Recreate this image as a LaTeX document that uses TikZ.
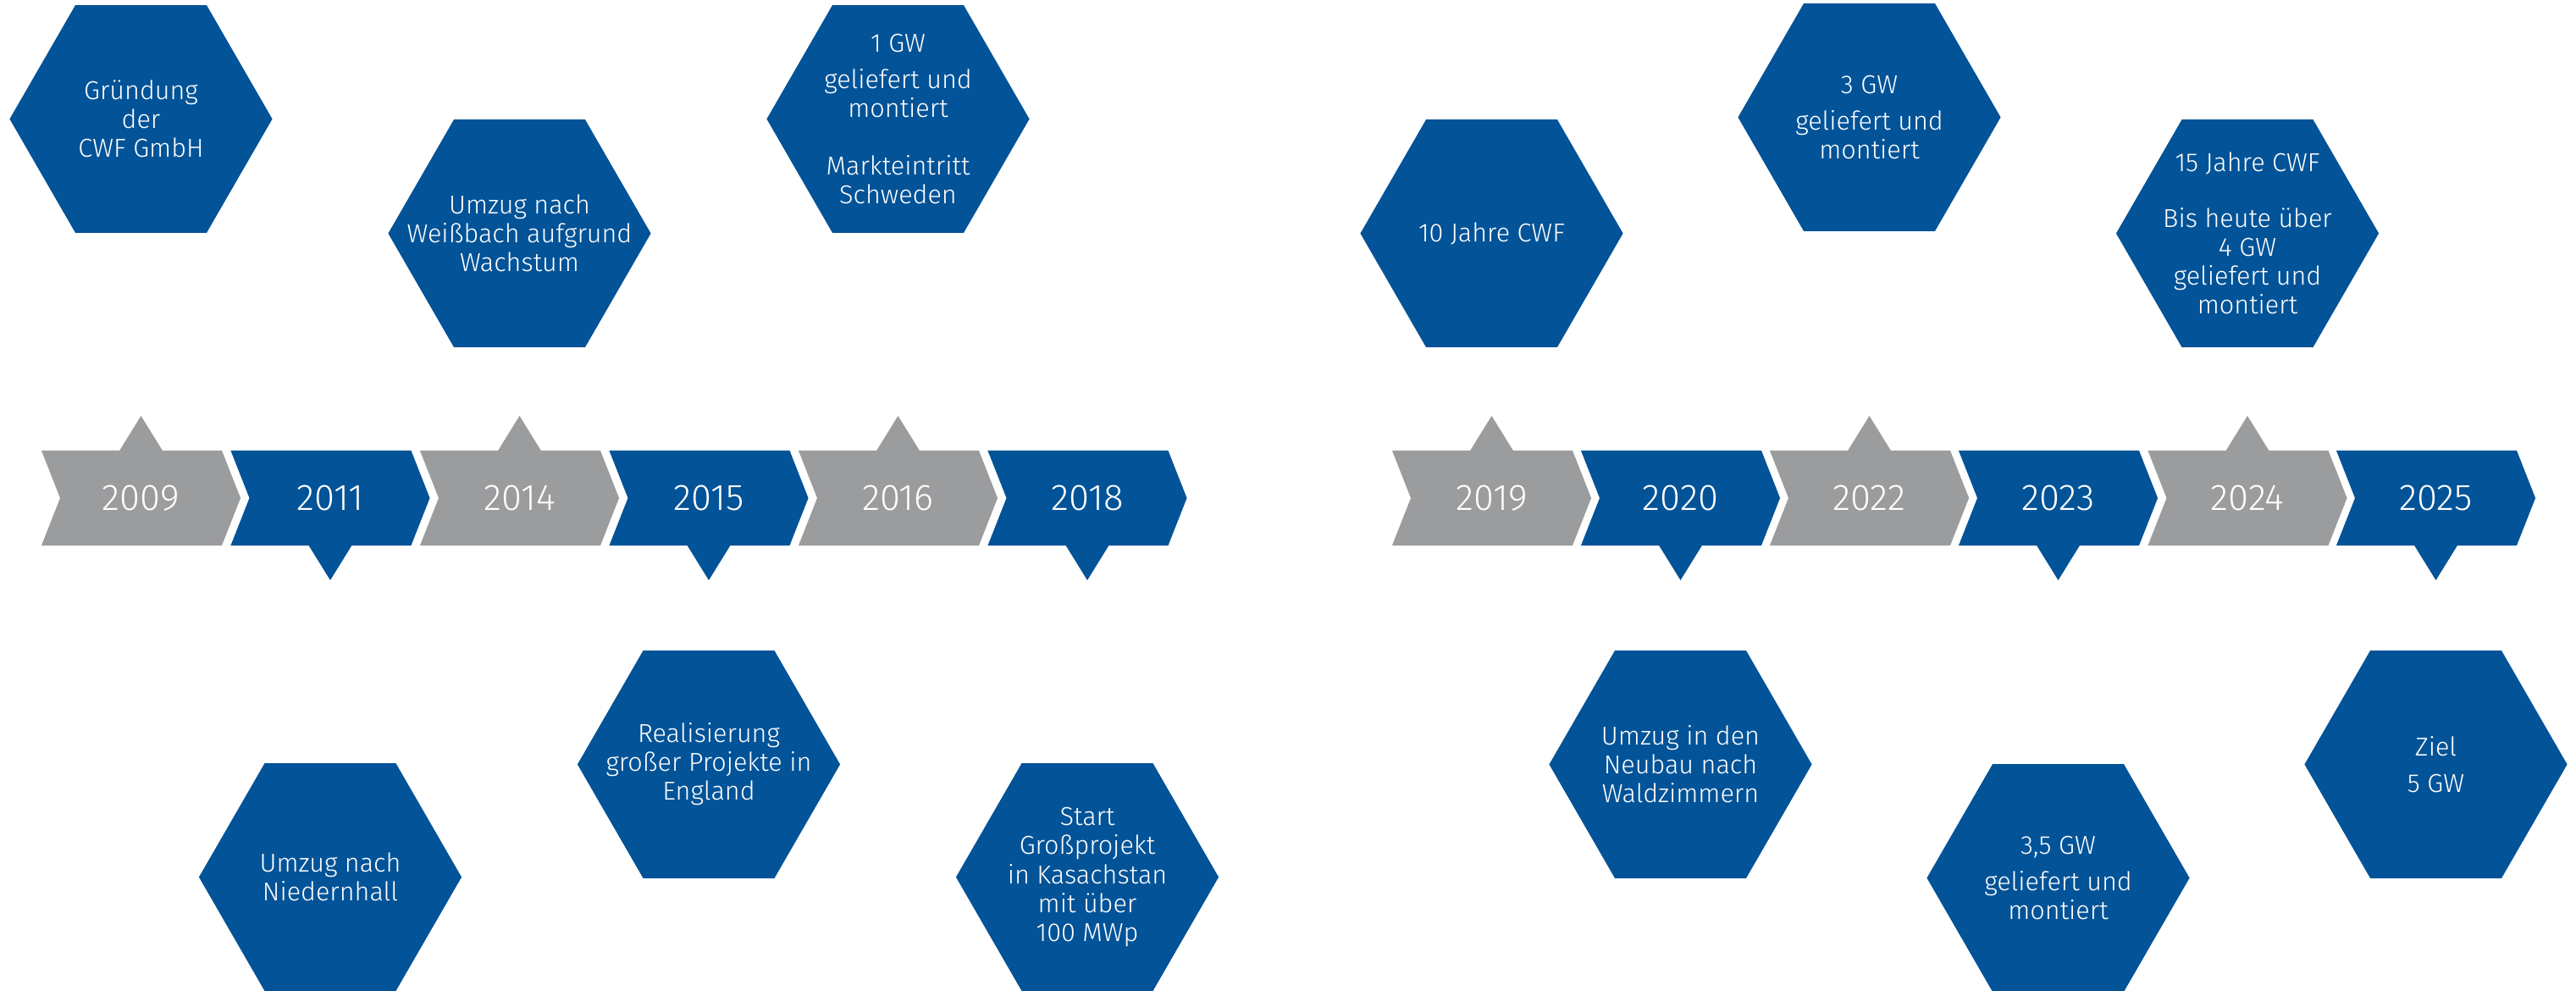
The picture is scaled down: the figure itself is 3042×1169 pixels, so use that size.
\documentclass[tikz,border=0pt]{standalone}
\usepackage{fontspec}
\setmainfont{Fira Sans}[UprightFont={* Light}]
\usepackage{tikz}
\usetikzlibrary{shapes.geometric, shapes.symbols, positioning, calc}
\definecolor{cwfblue}{RGB}{3,83,152}
\definecolor{cwfgray}{RGB}{155,156,158}
\tikzstyle{year} = [signal, signal to=east, signal from=west, signal pointer angle=137, minimum width=2.35cm, minimum height=1.12cm, inner sep=0pt, outer sep=0pt, text=white, font=\fontsize{12.4}{14}\selectfont]
\tikzstyle{yeargray} = [year, fill=cwfgray]
\tikzstyle{yearblue} = [year, fill=cwfblue]
\tikzstyle{hexa} = [regular polygon, regular polygon sides=6, minimum size=3.1cm, inner sep=0pt, outer sep=0pt, fill=cwfblue]
\tikzstyle{hextext} = [text=white, align=center, inner sep=0pt, font=\fontsize{8.7}{9.7}\selectfont]

\begin{document}
\begin{tikzpicture}[x=0.01cm, y=-0.01cm]
    \useasboundingbox (0,0) rectangle (3042,1169);

    % Years, left row
    \node (y2009) [yeargray] at (166.5,588) {2009};
    \node (y2011) [yearblue] at (390,588) {2011};
    \node (y2014) [yeargray] at (613.5,588) {2014};
    \node (y2015) [yearblue] at (837,588) {2015};
    \node (y2016) [yeargray] at (1060.5,588) {2016};
    \node (y2018) [yearblue] at (1284,588) {2018};
    % Years, right row
    \node (y2019) [yeargray] at (1761.5,588) {2019};
    \node (y2020) [yearblue] at (1984.5,588) {2020};
    \node (y2022) [yeargray] at (2207.5,588) {2022};
    \node (y2023) [yearblue] at (2430.5,588) {2023};
    \node (y2024) [yeargray] at (2654,588) {2024};
    \node (y2025) [yearblue] at (2876.5,588) {2025};

    % Tips
    \fill[cwfgray] ($(y2009.north)+(-26,1)$) -- ($(y2009.north)+(0,-41)$) -- ($(y2009.north)+(26,1)$) -- cycle;
    \fill[cwfgray] ($(y2014.north)+(-26,1)$) -- ($(y2014.north)+(0,-41)$) -- ($(y2014.north)+(26,1)$) -- cycle;
    \fill[cwfgray] ($(y2016.north)+(-26,1)$) -- ($(y2016.north)+(0,-41)$) -- ($(y2016.north)+(26,1)$) -- cycle;
    \fill[cwfgray] ($(y2019.north)+(-26,1)$) -- ($(y2019.north)+(0,-41)$) -- ($(y2019.north)+(26,1)$) -- cycle;
    \fill[cwfgray] ($(y2022.north)+(-26,1)$) -- ($(y2022.north)+(0,-41)$) -- ($(y2022.north)+(26,1)$) -- cycle;
    \fill[cwfgray] ($(y2024.north)+(-26,1)$) -- ($(y2024.north)+(0,-41)$) -- ($(y2024.north)+(26,1)$) -- cycle;
    \fill[cwfblue] ($(y2011.south)+(-26,-1)$) -- ($(y2011.south)+(0,41)$) -- ($(y2011.south)+(26,-1)$) -- cycle;
    \fill[cwfblue] ($(y2015.south)+(-26,-1)$) -- ($(y2015.south)+(0,41)$) -- ($(y2015.south)+(26,-1)$) -- cycle;
    \fill[cwfblue] ($(y2018.south)+(-26,-1)$) -- ($(y2018.south)+(0,41)$) -- ($(y2018.south)+(26,-1)$) -- cycle;
    \fill[cwfblue] ($(y2020.south)+(-26,-1)$) -- ($(y2020.south)+(0,41)$) -- ($(y2020.south)+(26,-1)$) -- cycle;
    \fill[cwfblue] ($(y2023.south)+(-26,-1)$) -- ($(y2023.south)+(0,41)$) -- ($(y2023.south)+(26,-1)$) -- cycle;
    \fill[cwfblue] ($(y2025.south)+(-26,-1)$) -- ($(y2025.south)+(0,41)$) -- ($(y2025.south)+(26,-1)$) -- cycle;

    % Events
    \node (gruendung) [hexa, above=2.57cm of y2009, label={[hextext]center:{Gründung\\der\\CWF GmbH}}] {};
    \node (niedernhall) [hexa, below=2.57cm of y2011, label={[hextext]center:{Umzug nach\\Niedernhall}}] {};
    \node (weissbach) [hexa, above=1.22cm of y2014, label={[hextext]center:{Umzug nach\\Weißbach aufgrund\\Wachstum}}] {};
    \node (england) [hexa, below=1.24cm of y2015, label={[hextext]center:{Realisierung\\großer Projekte in\\England}}] {};
    \node (gw1) [hexa, above=2.57cm of y2016, label={[hextext]center:{1 GW\\[2.5pt]geliefert und\\montiert\\[9.7pt]Markteintritt\\Schweden}}] {};
    \node (kasachstan) [hexa, below=2.57cm of y2018, label={[hextext]center:{Start\\Großprojekt\\in Kasachstan\\mit über\\100 MWp}}] {};
    \node (jahre10) [hexa, above=1.22cm of y2019, label={[hextext]center:{10 Jahre CWF}}] {};
    \node (neubau) [hexa, below=1.24cm of y2020, label={[hextext]center:{Umzug in den\\Neubau nach\\Waldzimmern}}] {};
    \node (gw3) [hexa, above=2.59cm of y2022, label={[hextext]center:{3 GW\\[2.5pt]geliefert und\\montiert}}] {};
    \node (gw35) [hexa, below=2.58cm of y2023, label={[hextext]center:{3,5 GW\\[2.5pt]geliefert und\\montiert}}] {};
    \node (jahre15) [hexa, above=1.22cm of y2024, label={[hextext]center:{15 Jahre CWF\\[9pt]Bis heute über\\4 GW\\geliefert und\\montiert}}] {};
    \node (ziel) [hexa, below=1.24cm of y2025, label={[hextext]center:{Ziel\\[2.5pt]5 GW}}] {};
\end{tikzpicture}
\end{document}
